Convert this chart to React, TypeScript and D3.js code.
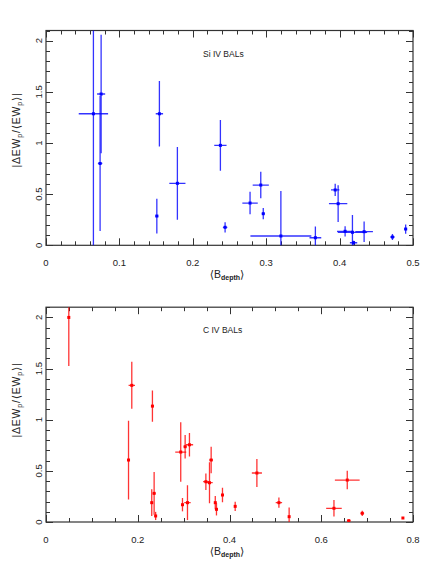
import React from "react";
import * as d3 from "d3";

// Si IV BALs
const siX = [0.0646, 0.0751, 0.0737, 0.1545, 0.151, 0.179, 0.2376, 0.244, 0.278, 0.2926, 0.296, 0.32, 0.367, 0.394, 0.398, 0.4075, 0.4175, 0.419, 0.4334, 0.472, 0.49];
const siY = [1.286, 1.479, 0.8, 1.286, 0.286, 0.606, 0.977, 0.176, 0.413, 0.589, 0.309, 0.091, 0.074, 0.541, 0.407, 0.137, 0.127, 0.025, 0.133, 0.081, 0.159];
const siXErr = [0.02, 0.0055, 0.003, 0.005, 0.002, 0.011, 0.0084, 0.003, 0.0105, 0.011, 0.002, 0.0415, 0.008, 0.0057, 0.0125, 0.011, 0.02, 0.005, 0.012, 0.003, 0.002];
const siYErr = [1.4, 0.58, 0.66, 0.32, 0.17, 0.355, 0.247, 0.05, 0.11, 0.13, 0.055, 0.44, 0.11, 0.06, 0.18, 0.05, 0.17, 0.02, 0.1, 0.03, 0.045];

// C IV BALs
const ciX = [0.0497, 0.187, 0.1799, 0.232, 0.2305, 0.2357, 0.239, 0.2937, 0.2975, 0.3033, 0.3127, 0.3084, 0.3485, 0.3564, 0.36, 0.369, 0.3716, 0.3847, 0.4124, 0.4597, 0.5077, 0.53, 0.6277, 0.6567, 0.66, 0.6894, 0.778];
const ciY = [2.0, 1.336, 0.606, 1.133, 0.189, 0.28, 0.059, 0.684, 0.169, 0.736, 0.755, 0.189, 0.394, 0.384, 0.606, 0.189, 0.124, 0.264, 0.153, 0.479, 0.189, 0.052, 0.134, 0.41, 0.013, 0.085, 0.039];
const ciXErr = [0.002, 0.007, 0.003, 0.003, 0.002, 0.003, 0.002, 0.012, 0.002, 0.003, 0.008, 0.007, 0.006, 0.007, 0.004, 0.002, 0.002, 0.002, 0.002, 0.011, 0.007, 0.001, 0.017, 0.027, 0.004, 0.004, 0.002];
const ciYErr = [0.475, 0.23, 0.385, 0.153, 0.13, 0.21, 0.04, 0.29, 0.065, 0.115, 0.115, 0.17, 0.08, 0.2, 0.13, 0.065, 0.06, 0.07, 0.045, 0.137, 0.05, 0.09, 0.08, 0.09, 0.01, 0.026, 0.005];

const yTicks = [0, 0.5, 1, 1.5, 2];
const yTickLabels = ["0", "0.5", "1", "1.5", "2"];
const siXTicks = [0, 0.1, 0.2, 0.3, 0.4, 0.5];
const siXTickLabels = ["0", "0.1", "0.2", "0.3", "0.4", "0.5"];
const ciXTicks = [0, 0.2, 0.4, 0.6, 0.8];
const ciXTickLabels = ["0", "0.2", "0.4", "0.6", "0.8"];

const FONT = "'Liberation Sans', Arial, Helvetica, sans-serif";
const BFONT = "'DejaVu Sans', sans-serif";
const FRAME = "#333";

type PanelProps = {
  id: string;
  xs: number[]; ys: number[]; xe: number[]; ye: number[];
  xDomain: [number, number];
  xTicks: number[]; xTickLabels: string[]; xMinorStep: number;
  top: number; bottom: number;
  color: string;
  title: string;
  yLabelCenter: number;
};

function Panel(p: PanelProps) {
  const left = 46, right = 413;
  const x = d3.scaleLinear().domain(p.xDomain).range([left, right]);
  const y = d3.scaleLinear().domain([0, 2.1]).range([p.bottom, p.top]);
  const xMinor = d3.range(p.xDomain[0], p.xDomain[1] + 1e-9, p.xMinorStep);
  const yMinor = d3.range(0, 2.1 + 1e-9, 0.1);
  const isMajorX = (v: number) => p.xTicks.some((t) => Math.abs(t - v) < 1e-6);
  const isMajorY = (v: number) => yTicks.some((t) => Math.abs(t - v) < 1e-6);
  const clip = `clip-${p.id}`;
  return (
    <g>
      <defs>
        <clipPath id={clip}>
          <rect x={left} y={p.top} width={right - left} height={p.bottom - p.top} />
        </clipPath>
      </defs>
      {xMinor.map((v, i) => {
        const L = isMajorX(v) ? 7 : 4;
        const xx = Math.round(x(v)) + 0.5;
        return (
          <g key={"xt" + i} stroke={FRAME} strokeWidth={1}>
            <line x1={xx} x2={xx} y1={p.bottom} y2={p.bottom - L} />
            <line x1={xx} x2={xx} y1={p.top} y2={p.top + L} />
          </g>
        );
      })}
      {yMinor.map((v, i) => {
        const L = isMajorY(v) ? 7 : 4;
        const yy = Math.round(y(v)) + 0.5;
        return (
          <g key={"yt" + i} stroke={FRAME} strokeWidth={1}>
            <line x1={left} x2={left + L} y1={yy} y2={yy} />
            <line x1={right} x2={right - L} y1={yy} y2={yy} />
          </g>
        );
      })}
      <rect x={left} y={p.top} width={right - left} height={p.bottom - p.top} fill="none" stroke={FRAME} strokeWidth={1.2} />
      {p.xTicks.map((v, i) => (
        <text key={"xl" + i} x={x(v)} y={p.bottom + 21} textAnchor="middle" fontSize={9.5} fontFamily={FONT} fill="#222">
          {p.xTickLabels[i]}
        </text>
      ))}
      {yTicks.map((v, i) => (
        <text key={"yl" + i} transform={`translate(41.5,${y(v)}) rotate(-90)`} textAnchor="middle" fontSize={9.5} fontFamily={FONT} fill="#222">
          {yTickLabels[i]}
        </text>
      ))}
      <text x={227} y={p.bottom + 33} textAnchor="middle" fontSize={10.5} fontFamily={FONT} fill="#222">
        <tspan fontFamily={BFONT} fontSize={11}>{"\u27E8"}</tspan>
        <tspan>B</tspan>
        <tspan fontSize={7} fontWeight="bold" dy={2}>depth</tspan>
        <tspan fontFamily={BFONT} fontSize={11} dy={-2}>{"\u27E9"}</tspan>
      </text>
      <text transform={`translate(19.5,${p.yLabelCenter}) rotate(-90)`} textAnchor="middle" fontSize={10.5} fontFamily={FONT} fill="#222" letterSpacing={0.8}>
        <tspan>|ΔEW</tspan>
        <tspan fontSize={7} dy={2}>p</tspan>
        <tspan dy={-2}>/</tspan>
        <tspan fontFamily={BFONT} fontSize={11}>{"\u27E8"}</tspan>
        <tspan>EW</tspan>
        <tspan fontSize={7} dy={2}>p</tspan>
        <tspan fontFamily={BFONT} fontSize={11} dy={-2}>{"\u27E9"}</tspan>
        <tspan>|</tspan>
      </text>
      <text x={203} y={p.top + 26} fontSize={8.5} fontFamily={FONT} fill="#222">{p.title}</text>
      <g clipPath={`url(#${clip})`}>
        {p.xs.map((xv, i) => (
          <g key={"pt" + i} stroke={p.color} strokeWidth={1.3} strokeOpacity={0.8}>
            <line x1={x(xv - p.xe[i])} x2={x(xv + p.xe[i])} y1={y(p.ys[i])} y2={y(p.ys[i])} />
            <line x1={x(xv)} x2={x(xv)} y1={y(p.ys[i] - p.ye[i])} y2={y(p.ys[i] + p.ye[i])} />
          </g>
        ))}
        {p.xs.map((xv, i) => (
          <rect key={"m" + i} x={x(xv) - 1.5} y={y(p.ys[i]) - 1.5} width={3} height={3} fill={p.color} />
        ))}
      </g>
    </g>
  );
}

export default function App() {
  return (
    <svg width={436} height={581} style={{ position: "absolute", left: 0, top: 0, background: "#fff" }}>
      <rect width={436} height={581} fill="#fff" />
      <Panel id="si" xs={siX} ys={siY} xe={siXErr} ye={siYErr} xDomain={[0, 0.5]}
        xTicks={siXTicks} xTickLabels={siXTickLabels} xMinorStep={0.02}
        top={30.5} bottom={245.3} color="#0000ff" title="Si IV BALs" yLabelCenter={130} />
      <Panel id="ci" xs={ciX} ys={ciY} xe={ciXErr} ye={ciYErr} xDomain={[0, 0.8]}
        xTicks={ciXTicks} xTickLabels={ciXTickLabels} xMinorStep={0.05}
        top={307.2} bottom={522} color="#ff0000" title="C IV BALs" yLabelCenter={400} />
    </svg>
  );
}
